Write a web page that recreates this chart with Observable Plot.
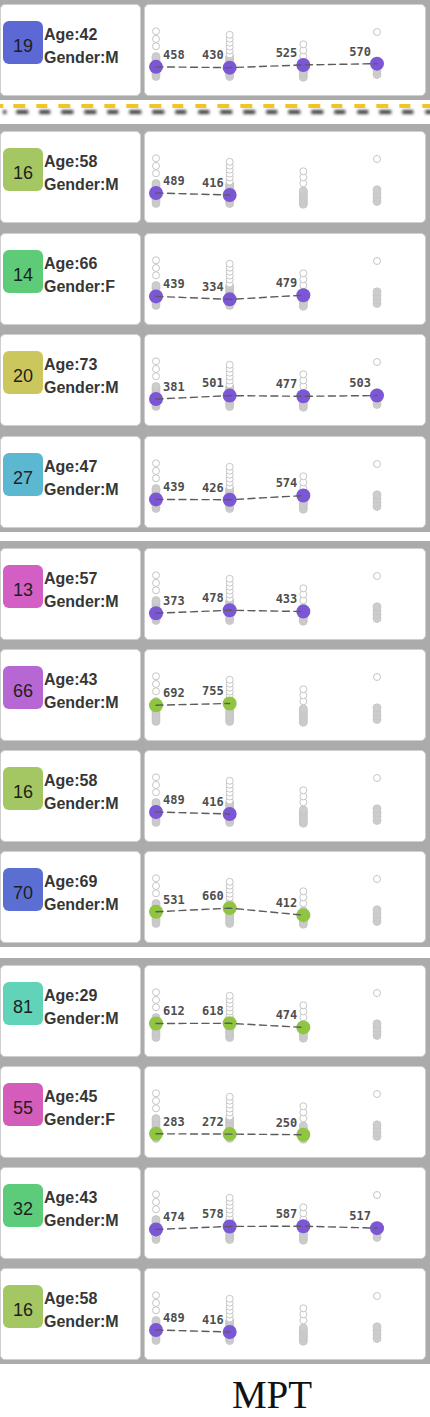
<!DOCTYPE html>
<html><head><meta charset="utf-8">
<script src="https://cdn.jsdelivr.net/npm/d3@7"></script>
<script src="https://cdn.jsdelivr.net/npm/@observablehq/plot@0.6"></script>
<style>
html,body{margin:0;padding:0;background:#fff;}
#root{position:relative;width:430px;height:1417px;overflow:hidden;font-family:"Liberation Sans",Arial,sans-serif;}
.group{position:absolute;left:0;width:430px;background:#ababab;}
.card{position:absolute;background:#fff;border:1px solid #cfcfcf;border-radius:5px;box-sizing:border-box;}
.badge{position:absolute;left:2px;top:16px;width:40px;height:43px;border-radius:6px;text-align:center;font-size:18px;line-height:51px;color:#1e1e1e;}
.info{position:absolute;left:43px;font-size:16px;line-height:16px;font-weight:bold;color:#363636;white-space:nowrap;}
.plotbox{position:absolute;left:144px;}
.dashsep{position:absolute;left:0;top:104px;width:430px;height:4px;
 background:repeating-linear-gradient(90deg,#f2c526 0 11.5px,transparent 11.5px 22.7px);background-position:13.3px 0;
 filter:drop-shadow(3px 6px 1.6px rgba(30,30,30,0.85));}
.caption{position:absolute;left:172px;width:200px;top:1380px;height:30px;text-align:center;font-family:"Liberation Serif","Times New Roman",serif;font-size:39px;line-height:30px;color:#111;}
</style></head><body><div id="root"></div>
<script>
// ---- data ----
const patientIds = [19, 16, 14, 20, 27, 13, 66, 16, 70, 81, 55, 32, 16];
const ages = [42, 58, 66, 73, 47, 57, 43, 58, 69, 29, 45, 43, 58];
const genders = ["M", "M", "F", "M", "M", "M", "M", "M", "M", "M", "F", "M", "M"];
const armGroup = ["A", "A", "A", "A", "A", "A", "B", "A", "B", "B", "B", "A", "A"];
const visits = [1, 2, 3, 4];
const visitValues = [
  [458, 430, 525, 570],
  [489, 416],
  [439, 334, 479],
  [381, 501, 477, 503],
  [439, 426, 574],
  [373, 478, 433],
  [692, 755],
  [489, 416],
  [531, 660, 412],
  [612, 618, 474],
  [283, 272, 250],
  [474, 578, 587, 517],
  [489, 416]
];
// cohort distribution shown in grey behind each patient (per visit)
const cohortSolid = [
  [120, 200, 280, 360, 440, 520, 600, 680, 760, 820],
  [117, 200, 280, 360, 440, 520, 600, 680, 760, 800],
  [90, 170, 250, 330, 410, 490, 560],
  [190, 320, 450, 600]
];
const cohortOpen = [
  [1184, 1442, 1714],
  [894, 1035, 1173, 1311, 1452, 1590],
  [830, 1040, 1255],
  [1689]
];
// tile group boundaries (which rows belong together)
const rowGroups = [[0], [1, 2, 3, 4], [5, 6, 7, 8], [9, 10, 11, 12]];
const captionText = "MPT";

// ---- styles ----
const badgePalette = {19: "#5c68d4", 16: "#a4c763", 14: "#5dcb78", 20: "#cbc75d", 27: "#5cb8d1", 13: "#d35fc4",
  66: "#b767d4", 70: "#5b6fd2", 81: "#60d3b8", 55: "#d45dbc", 32: "#5ccb7a"};
const armPalette = {A: "#7b56d5", B: "#8fc540"};
const rowTops = [4, 131, 233, 334, 436, 548, 649, 750, 851, 965, 1066, 1167, 1268];
const cardH = 92;

const root = document.getElementById("root");
function el(cls, style, text) {
  const d = document.createElement("div");
  d.className = cls;
  Object.assign(d.style, style || {});
  if (text != null) d.textContent = text;
  root.appendChild(d);
  return d;
}

// group grey backgrounds
rowGroups.forEach(g => {
  const t = rowTops[g[0]] - 7;
  const b = rowTops[g[g.length - 1]] + cardH + 4;
  el("group", {top: t + "px", height: (b - t) + "px"});
});
el("dashsep");

const solidData = visits.flatMap((v, j) => cohortSolid[j].map(val => ({visit: v, value: val})));
const openData = visits.flatMap((v, j) => cohortOpen[j].map(val => ({visit: v, value: val})));

patientIds.forEach((pid, i) => {
  const top = rowTops[i];
  const left = el("card", {left: "0px", top: top + "px", width: "141px", height: cardH + "px"});
  const badge = document.createElement("div");
  badge.className = "badge";
  badge.style.background = badgePalette[pid];
  badge.textContent = String(pid);
  left.appendChild(badge);
  const a = document.createElement("div");
  a.className = "info"; a.style.top = "21.5px"; a.textContent = "Age:" + ages[i];
  left.appendChild(a);
  const g = document.createElement("div");
  g.className = "info"; g.style.top = "45px"; g.textContent = "Gender:" + genders[i];
  left.appendChild(g);

  el("card", {left: "144px", top: top + "px", width: "282px", height: cardH + "px"});

  const pts = visitValues[i].map((val, j) => ({visit: visits[j], value: val}));
  const col = armPalette[armGroup[i]];
  const chart = Plot.plot({
    width: 282, height: cardH, margin: 0,
    x: {type: "linear", domain: [1, 4], range: [11.5, 232.5], axis: null},
    y: {type: "linear", domain: [0, 2000], range: [75.3, 18.7], axis: null},
    style: {background: "transparent", overflow: "visible"},
    marks: [
      Plot.dot(solidData, {x: "visit", y: "value", r: 4, fill: "#cdcdcd", stroke: "#c4c4c4", strokeWidth: 0.8}),
      Plot.dot(openData, {x: "visit", y: "value", r: 3.5, fill: "#ffffff", stroke: "#c6c6c6", strokeWidth: 1}),
      Plot.dot(pts, {x: "visit", y: "value", r: 7, fill: col}),
      Plot.line(pts, {x: "visit", y: "value", stroke: "#5c5c5c", strokeWidth: 1.4, strokeDasharray: "7,4.5"}),
      Plot.text(pts.filter(d => d.visit === 1), {x: "visit", y: "value", text: d => String(d.value),
        textAnchor: "start", dx: 7, dy: -12, fontFamily: "DejaVu Sans Mono", fontSize: 12, fontWeight: "bold", fill: "#4e4e4e"}),
      Plot.text(pts.filter(d => d.visit > 1), {x: "visit", y: "value", text: d => String(d.value),
        textAnchor: "end", dx: -6, dy: -12, fontFamily: "DejaVu Sans Mono", fontSize: 12, fontWeight: "bold", fill: "#4e4e4e"})
    ]
  });
  const box = el("plotbox", {top: top + "px"});
  box.appendChild(chart);
});

el("caption", {}, captionText);
</script>
</body></html>
